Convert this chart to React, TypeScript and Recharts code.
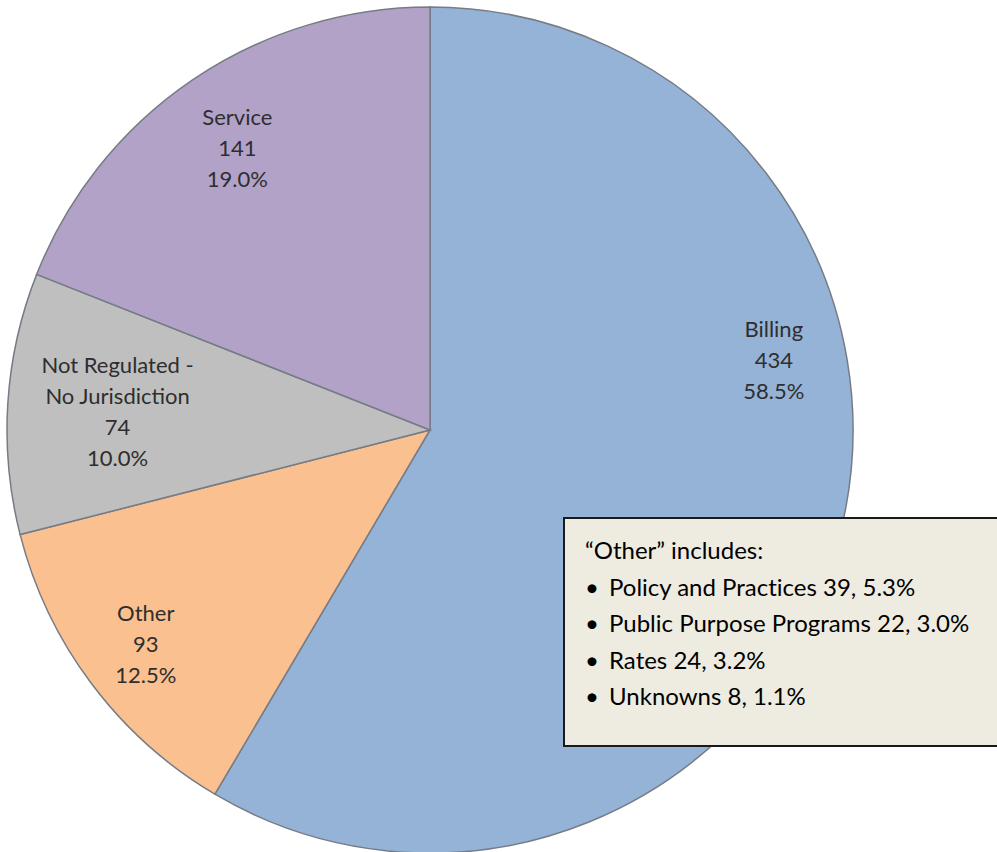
import { PieChart, Pie, Cell } from 'recharts'

// slices in clockwise order from 12 o'clock
const categories = ['Billing', 'Other', 'Not Regulated - No Jurisdiction', 'Service']
const labelLines = [['Billing'], ['Other'], ['Not Regulated -', 'No Jurisdiction'], ['Service']]
const counts = [434, 93, 74, 141]
const otherItems = [
  'Policy and Practices 39, 5.3%',
  'Public Purpose Programs 22, 3.0%',
  'Rates 24, 3.2%',
  'Unknowns 8, 1.1%',
]

const COLORS = ['#95b3d7', '#fac090', '#bfbfbf', '#b3a2c7']
// Excel's "best fit" label placement: fraction of radius and angle shift from mid angle
const LABEL_R = [0.83, 0.84, 0.74, 0.81]
const LABEL_SHIFT = [27, 0, 0, 0]

const data = categories.map((name, i) => ({ name, value: counts[i] }))

const FONT = 'Lato, "Open Sans", sans-serif'
const RADIAN = Math.PI / 180

function renderLabel(props: any) {
  const { cx, cy, midAngle, outerRadius, index, value, percent } = props
  const r = outerRadius * LABEL_R[index]
  const a = (midAngle + LABEL_SHIFT[index]) * RADIAN
  const x = cx + r * Math.cos(-a)
  const y = cy + r * Math.sin(-a)
  const lines = [...labelLines[index], String(value), `${(percent * 100).toFixed(1)}%`]
  const lh = 31
  const y0 = y - ((lines.length - 1) * lh) / 2
  return (
    <text x={x} y={y0} textAnchor="middle" dominantBaseline="central" fill="#2e2e2e" fontSize={22} fontFamily={FONT}>
      {lines.map((t, i) => (
        <tspan key={i} x={x} y={y0 + i * lh}>{t}</tspan>
      ))}
    </text>
  )
}

export default function App() {
  return (
    <div style={{ position: 'absolute', left: 0, top: 0, width: 997, height: 852, overflow: 'hidden', background: '#fff' }}>
      <PieChart width={997} height={852} margin={{ top: 0, right: 0, bottom: 0, left: 0 }}>
        <Pie
          data={data}
          dataKey="value"
          cx={430}
          cy={430}
          outerRadius={423}
          startAngle={90}
          endAngle={-270}
          stroke="#767c86"
          strokeWidth={1.5}
          label={renderLabel}
          labelLine={false}
          isAnimationActive={false}
        >
          {data.map((_, i) => <Cell key={i} fill={COLORS[i]} />)}
        </Pie>
      </PieChart>
      {/* "Other" breakdown note */}
      <div
        style={{
          position: 'absolute', left: 563, top: 517, width: 450, height: 230,
          background: '#eeece1', border: '2px solid #1a1a1a', boxSizing: 'border-box',
          fontFamily: FONT, fontSize: 24, color: '#000', padding: '13px 0 0 20px',
          fontVariantLigatures: 'none',
        }}
      >
        <div style={{ height: 36.5, lineHeight: '36.5px' }}>“Other” includes:</div>
        {otherItems.map((t, i) => (
          <div key={i} style={{ height: 36.5, lineHeight: '36.5px', display: 'flex' }}>
            <span style={{ width: 24, flexShrink: 0 }}>•</span>
            <span>{t}</span>
          </div>
        ))}
      </div>
    </div>
  )
}
